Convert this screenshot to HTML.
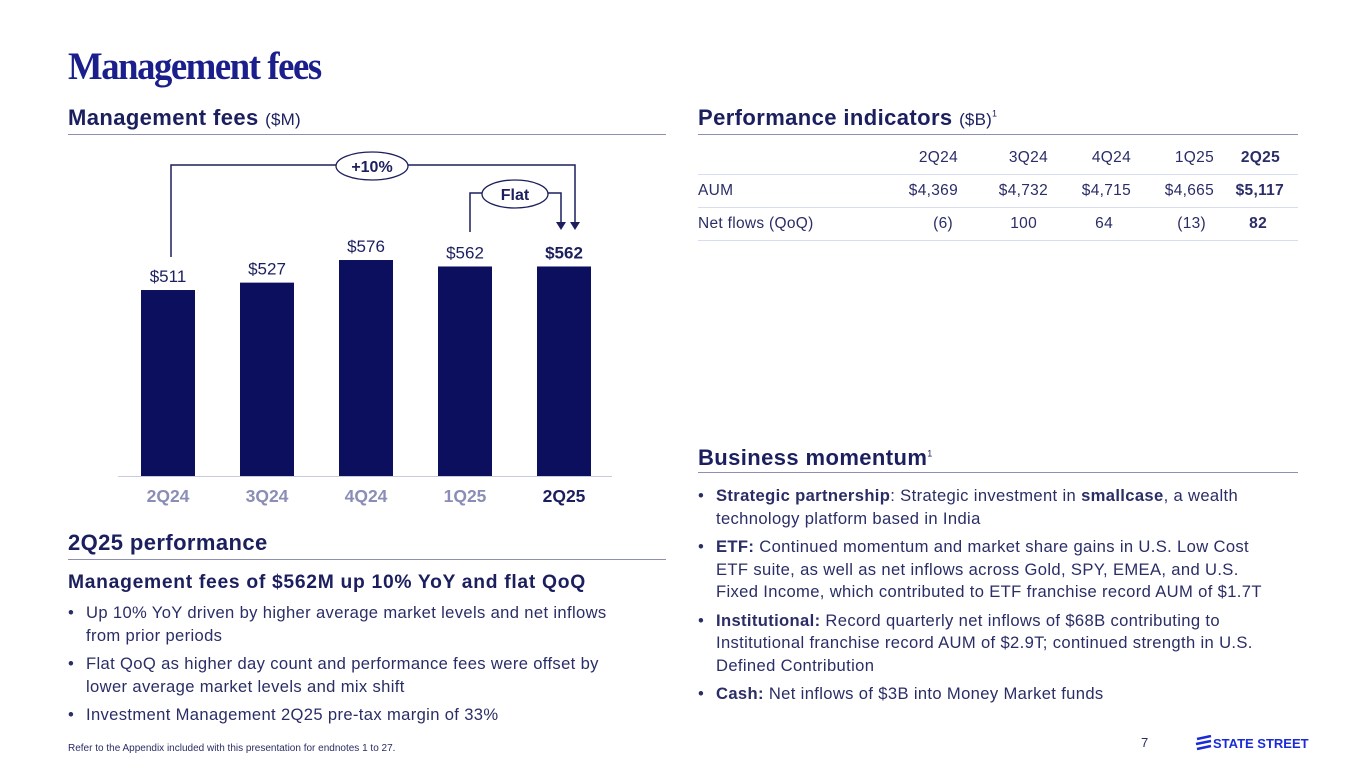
<!DOCTYPE html>
<html><head><meta charset="utf-8"><style>
body{margin:0;width:1365px;height:768px;background:#fff;font-family:"Liberation Sans",sans-serif;color:#1c1f5e;position:relative;overflow:hidden}
.a{position:absolute}
h1{position:absolute;left:68px;top:44px;margin:0;font-family:"Liberation Serif",serif;font-weight:bold;font-size:39px;letter-spacing:-1.5px;color:#1a1f8c;transform:scaleX(0.94);transform-origin:left}
.sec{font-weight:bold;font-size:22px;letter-spacing:0.4px;color:#1c1f5e}
.sec span{font-weight:normal;font-size:17px;letter-spacing:0.2px}
.rule{position:absolute;height:1px;background:#8c8fb0}
ul{margin:0;padding:0;list-style:none}
li{position:relative;padding-left:18px;font-size:16.6px;letter-spacing:0.35px;line-height:22.5px;margin-bottom:6px;color:#2a2d66}
li:before{content:"•";position:absolute;left:0}
table{border-collapse:collapse;font-size:15.5px;letter-spacing:0.3px;color:#2a2d66;table-layout:fixed}
td{height:32px;border-bottom:1px solid #d7dcef;text-align:right;padding:0}
</style></head><body>
<h1>Management fees</h1>
<div class="a sec" style="left:68px;top:105px">Management fees <span>($M)</span></div>
<div class="rule" style="left:68px;top:134px;width:598px"></div>
<svg class="a" style="left:0;top:0" width="680" height="520" id="chart"></svg>
<div class="a sec" style="left:68px;top:530px">2Q25 performance</div>
<div class="rule" style="left:68px;top:559px;width:598px"></div>
<div class="a" style="left:68px;top:572px;font-weight:bold;font-size:19.3px;letter-spacing:0.7px">Management fees of $562M up 10% YoY and flat QoQ</div>
<ul class="a" style="left:68px;top:602px;width:572px">
<li>Up 10% YoY driven by higher average market levels and net inflows from prior periods</li>
<li>Flat QoQ as higher day count and performance fees were offset by lower average market levels and mix shift</li>
<li>Investment Management 2Q25 pre-tax margin of 33%</li></ul>
<div class="a sec" style="left:698px;top:105px">Performance indicators <span>($B)</span><sup style="font-size:9px;font-weight:normal">1</sup></div>
<div class="rule" style="left:698px;top:134px;width:600px"></div>
<table class="a" style="left:698px;top:142px;width:600px">
<colgroup><col style="width:180px"><col style="width:80px"><col style="width:90px"><col style="width:83px"><col style="width:83px"><col style="width:84px"></colgroup>
<tr><td style="text-align:left"></td><td>2Q24</td><td>3Q24</td><td>4Q24</td><td>1Q25</td><td style="font-weight:bold;padding-right:18px">2Q25</td></tr>
<tr><td style="text-align:left">AUM</td><td>$4,369</td><td>$4,732</td><td>$4,715</td><td>$4,665</td><td style="font-weight:bold;padding-right:14px">$5,117</td></tr>
<tr><td style="text-align:left">Net flows (QoQ)</td><td style="padding-right:5px">(6)</td><td style="padding-right:11px">100</td><td style="padding-right:18px">64</td><td style="padding-right:8px">(13)</td><td style="font-weight:bold;padding-right:31px">82</td></tr>
</table>
<div class="a sec" style="left:698px;top:445px">Business momentum<sup style="font-size:9px;font-weight:normal">1</sup></div>
<div class="rule" style="left:698px;top:472px;width:600px"></div>
<ul class="a" style="left:698px;top:485px;width:578px">
<li><b>Strategic partnership</b>: Strategic investment in <b>smallcase</b>, a wealth technology platform based in India</li>
<li><b>ETF:</b> Continued momentum and market share gains in U.S. Low Cost ETF suite, as well as net inflows across Gold, SPY, EMEA, and U.S. Fixed Income, which contributed to ETF franchise record AUM of $1.7T</li>
<li><b>Institutional:</b> Record quarterly net inflows of $68B contributing to Institutional franchise record AUM of $2.9T; continued strength in U.S. Defined Contribution</li>
<li><b>Cash:</b> Net inflows of $3B into Money Market funds</li></ul>
<div class="a" style="left:68px;top:743px;font-size:10px;color:#2a2d66">Refer to the Appendix included with this presentation for endnotes 1 to 27.</div>
<div class="a" style="left:1141px;top:735px;font-size:13px;color:#2a2d66">7</div>
<div class="a" style="left:1195px;top:735px;font-size:13px;font-weight:bold;color:#1a2bd6;display:flex;align-items:center">
<svg width="18" height="16"><path d="M2 4 L16 1 M1 9 L16 6 M2 14 L16 11" stroke="#1a2bd6" stroke-width="2.5"/></svg>STATE STREET</div>
<script>
const categories=["2Q24","3Q24","4Q24","1Q25","2Q25"];
const values=[511,527,576,562,562];
const labels=["$511","$527","$576","$562","$562"];
const svg=document.getElementById('chart');const NS="http://www.w3.org/2000/svg";
const base=476,v0=108,k=0.4615;
const y=v=>base-(v-v0)*k;const x=i=>168+i*99;
function mk(t,a){const e=document.createElementNS(NS,t);for(const n in a)e.setAttribute(n,a[n]);svg.appendChild(e);return e;}
mk('line',{x1:118,x2:612,y1:476.5,y2:476.5,stroke:'#c8cbe0'});
values.forEach((v,i)=>{
 const r=mk('rect',{x:x(i)-27,y:y(v),width:54,height:base-y(v),fill:'#0b0f5e'});
 
 
 const last=i===values.length-1;
 const t=mk('text',{x:x(i),y:y(v)-8,'text-anchor':'middle','font-size':17,fill:'#1c1f5e','font-weight':last?'bold':'normal','font-family':'Liberation Sans'});t.textContent=labels[i];
 
 
 const c=mk('text',{x:x(i),y:502,'text-anchor':'middle','font-size':17.5,'font-weight':'bold',fill:last?'#1c1f5e':'#8a8db5','font-family':'Liberation Sans'});c.textContent=categories[i];
 
 
});
const s='#1c1f5e';
mk('path',{d:`M171 257 V165 H336 M405 165 H575 V222`,fill:'none',stroke:s,'stroke-width':1.5});
mk('path',{d:`M470 232 V193 H484 M548 193 H561 V222`,fill:'none',stroke:s,'stroke-width':1.5});
mk('path',{d:'M556 222 L566 222 L561 230Z M570 222 L580 222 L575 230Z',fill:s});
mk('ellipse',{cx:372,cy:166,rx:36,ry:14,fill:'#fff',stroke:s,'stroke-width':1.3});
mk('ellipse',{cx:515,cy:194,rx:33,ry:14,fill:'#fff',stroke:s,'stroke-width':1.3});
const a=mk('text',{x:372,y:172,'text-anchor':'middle','font-size':16,'font-weight':'bold',fill:s,'font-family':'Liberation Sans'});a.textContent='+10%';
const b=mk('text',{x:515,y:200,'text-anchor':'middle','font-size':16,'font-weight':'bold',fill:s,'font-family':'Liberation Sans'});b.textContent='Flat';
</script>
</body></html>
